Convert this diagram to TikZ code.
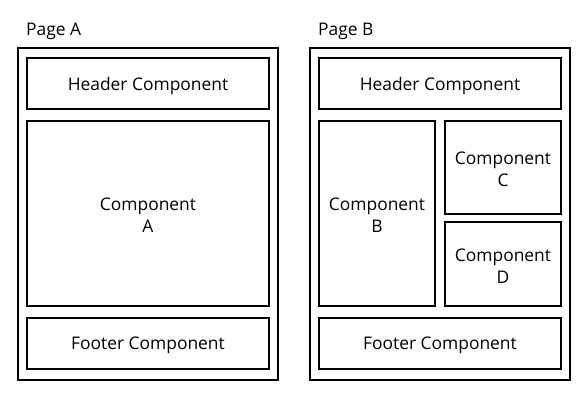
\documentclass[tikz,border=0pt]{standalone}
\usepackage{fontspec}
\setmainfont{Open Sans}
\begin{document}
\begin{tikzpicture}[x=1pt,y=-1pt,
  box/.style={draw=black,line width=1.6pt,fill=white},
  lbl/.style={font=\fontsize{17.4}{22}\selectfont,align=center,text=black},
  ttl/.style={font=\fontsize{17.4}{22}\selectfont,anchor=base west,text=black,inner sep=0pt}]
\useasboundingbox (0,0) rectangle (586,406);
% Page A
\node[ttl] (pa) at (26,36) {Page A};
\draw[box] (18,48) rectangle (278,380);
\draw[box] (27,58) rectangle (269,109);
\node[lbl] (ha) at (148,85.5) {Header Component};
\draw[box] (27,121) rectangle (269,306);
\node[lbl] (ca) at (148,215.5) {Component\\A};
\draw[box] (27,318) rectangle (269,369);
\node[lbl] (fa) at (148,345.5) {Footer Component};
% Page B
\node[ttl] (pb) at (318,36) {Page B};
\draw[box] (310,48) rectangle (570,380);
\draw[box] (319,58) rectangle (561,109);
\node[lbl] (hb) at (440,85.5) {Header Component};
\draw[box] (319,121) rectangle (435,306);
\node[lbl] (cb) at (377,215.5) {Component\\B};
\draw[box] (445,121) rectangle (561,214);
\node[lbl] (cc) at (503,169.5) {Component\\C};
\draw[box] (445,222) rectangle (561,306);
\node[lbl] (cd) at (503,266) {Component\\D};
\draw[box] (319,318) rectangle (561,369);
\node[lbl] (fb) at (440,345.5) {Footer Component};
\end{tikzpicture}
\end{document}
